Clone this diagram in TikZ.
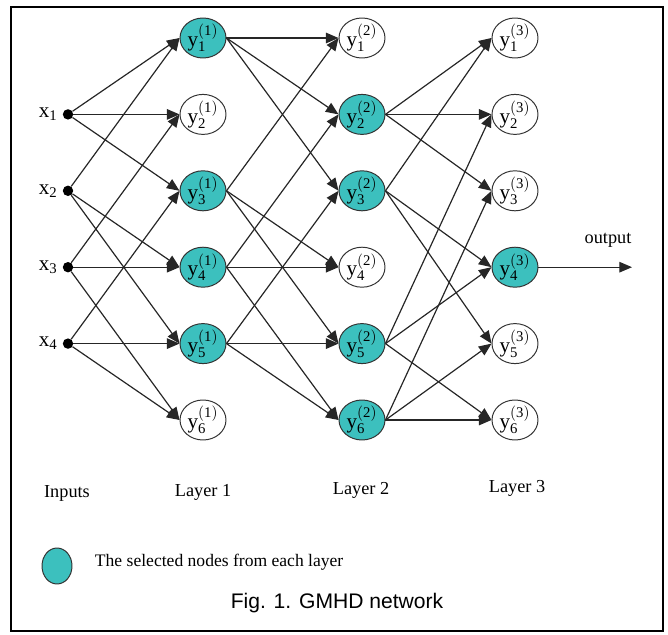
\documentclass[tikz,border=0pt]{standalone}
\usepackage{fontspec}
\setmainfont{Liberation Serif}
\newfontfamily\capfont{Liberation Sans}
\usetikzlibrary{arrows.meta,shapes.geometric}
\definecolor{selteal}{RGB}{60,192,190}
\newcommand{\yv}[2]{$\mathrm{y}_{\mathrm{#2}}^{\mathrm{(#1)}}$}
\newcommand{\xv}[1]{$\mathrm{x}_{\mathrm{#1}}$}

\begin{document}
\begin{tikzpicture}[
    unit/.style={draw=black!80, line width=0.7pt, ellipse, minimum width=1.15cm, minimum height=1.0cm, inner sep=0pt, font=\fontsize{15}{15}\selectfont},
    picked/.style={unit, fill=selteal},
    indot/.style={circle, fill=black, inner sep=0pt, minimum size=0.26cm},
    conn/.style={-{Triangle[length=9pt,width=7.5pt]}, line width=0.85pt, draw=black!85},
    lbl/.style={font=\fontsize{13}{13}\selectfont}
  ]
    \useasboundingbox (0,0) rectangle (16.7,-15.875);
    \draw[line width=1.6pt] (0.275,-0.175) rectangle (16.575,-15.775);

    % inputs
    \node[indot, label={[lbl, font=\fontsize{15}{15}\selectfont]left:\xv{1}}] (x1) at (1.7,-2.86) {};
    \node[indot, label={[lbl, font=\fontsize{15}{15}\selectfont]left:\xv{2}}] (x2) at (1.7,-4.77) {};
    \node[indot, label={[lbl, font=\fontsize{15}{15}\selectfont]left:\xv{3}}] (x3) at (1.7,-6.68) {};
    \node[indot, label={[lbl, font=\fontsize{15}{15}\selectfont]left:\xv{4}}] (x4) at (1.7,-8.59) {};

    % layer 1
    \node[picked] (y11) at (5.075,-0.95) {\yv{1}{1}};
    \node[unit]   (y12) at (5.075,-2.86) {\yv{1}{2}};
    \node[picked] (y13) at (5.075,-4.77) {\yv{1}{3}};
    \node[picked] (y14) at (5.075,-6.68) {\yv{1}{4}};
    \node[picked] (y15) at (5.075,-8.59) {\yv{1}{5}};
    \node[unit]   (y16) at (5.075,-10.5) {\yv{1}{6}};

    % layer 2
    \node[unit]   (y21) at (9.05,-0.95) {\yv{2}{1}};
    \node[picked] (y22) at (9.05,-2.86) {\yv{2}{2}};
    \node[picked] (y23) at (9.05,-4.77) {\yv{2}{3}};
    \node[unit]   (y24) at (9.05,-6.68) {\yv{2}{4}};
    \node[picked] (y25) at (9.05,-8.59) {\yv{2}{5}};
    \node[picked] (y26) at (9.05,-10.5) {\yv{2}{6}};

    % layer 3
    \node[unit]   (y31) at (12.875,-0.95) {\yv{3}{1}};
    \node[unit]   (y32) at (12.875,-2.86) {\yv{3}{2}};
    \node[unit]   (y33) at (12.875,-4.77) {\yv{3}{3}};
    \node[picked] (y34) at (12.875,-6.68) {\yv{3}{4}};
    \node[unit]   (y35) at (12.875,-8.59) {\yv{3}{5}};
    \node[unit]   (y36) at (12.875,-10.5) {\yv{3}{6}};

    % inputs -> layer 1
    \draw[conn] (x1) -- (y11.west); \draw[conn] (x1) -- (y12.west); \draw[conn] (x1) -- (y13.west);
    \draw[conn] (x2) -- (y11.west); \draw[conn] (x2) -- (y14.west); \draw[conn] (x2) -- (y15.west);
    \draw[conn] (x3) -- (y12.west); \draw[conn] (x3) -- (y14.west); \draw[conn] (x3) -- (y16.west);
    \draw[conn] (x4) -- (y13.west); \draw[conn] (x4) -- (y15.west); \draw[conn] (x4) -- (y16.west);

    % layer 1 -> layer 2
    \draw[conn] (y11.east) -- (y21.west); \draw[conn] (y11.east) -- (y22.west); \draw[conn] (y11.east) -- (y23.west);
    \draw[conn] (y13.east) -- (y21.west); \draw[conn] (y13.east) -- (y24.west); \draw[conn] (y13.east) -- (y25.west);
    \draw[conn] (y14.east) -- (y22.west); \draw[conn] (y14.east) -- (y24.west); \draw[conn] (y14.east) -- (y26.west);
    \draw[conn] (y15.east) -- (y23.west); \draw[conn] (y15.east) -- (y25.west); \draw[conn] (y15.east) -- (y26.west);

    % layer 2 -> layer 3
    \draw[conn] (y22.east) -- (y31.west); \draw[conn] (y22.east) -- (y32.west); \draw[conn] (y22.east) -- (y33.west);
    \draw[conn] (y23.east) -- (y31.west); \draw[conn] (y23.east) -- (y34.west); \draw[conn] (y23.east) -- (y35.west);
    \draw[conn] (y25.east) -- (y32.west); \draw[conn] (y25.east) -- (y34.west); \draw[conn] (y25.east) -- (y36.west);
    \draw[conn] (y26.east) -- (y33.west); \draw[conn] (y26.east) -- (y35.west); \draw[conn] (y26.east) -- (y36.west);

    % output
    \coordinate (out) at (15.8,-6.68);
    \draw[conn] (y34.east) -- (out);
    \node[lbl] (outlbl) at (15.2,-6.0) {output};

    % layer names
    \node[lbl] (inname) at (1.675,-12.33) {Inputs};
    \node[lbl] (l1name) at (5.075,-12.3) {Layer 1};
    \node[lbl] (l2name) at (9.025,-12.27) {Layer 2};
    \node[lbl] (l3name) at (12.925,-12.22) {Layer 3};

    % legend
    \node[picked, minimum width=0.75cm, minimum height=0.9cm] (legsym) at (1.425,-14.15) {};
    \node[font=\fontsize{12.5}{12.5}\selectfont, anchor=west] (legtxt) at (2.25,-14.05) {The selected nodes from each layer};

    \node[font=\capfont\fontsize{15}{15}\selectfont] (cap) at (8.425,-15.075) {Fig. 1. GMHD network};
\end{tikzpicture}
\end{document}
